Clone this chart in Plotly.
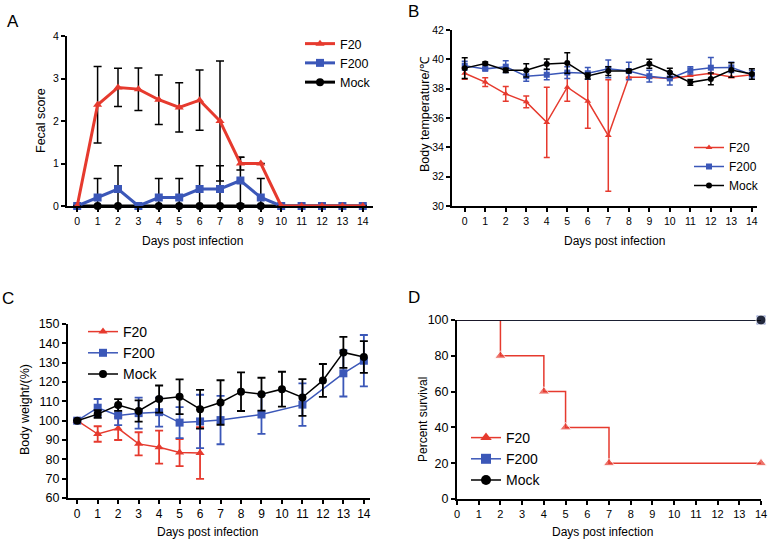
import plotly.graph_objects as go

# ---- data ----
days = list(range(15))

# A: fecal score
fecal_f20 = [0, 2.38, 2.79, 2.75, 2.5, 2.32, 2.49, 2.0, 1.0, 1.0, 0, 0, 0, 0, 0]
fecal_f20_err = [None, 0.9, 0.45, 0.5, 0.58, 0.58, 0.71, 1.41, 0.15, None, None, None, None, None, None]
fecal_f200 = [0, 0.2, 0.4, 0, 0.2, 0.2, 0.4, 0.4, 0.6, 0.2, 0, 0, 0, 0, 0]
fecal_f200_err = [None, 0.45, 0.55, None, 0.45, 0.45, 0.55, 0.55, 0.55, 0.45, None, None, None, None, None]
fecal_mock = [0] * 15

# B: body temperature
temp_f20 = [39.05, 38.45, 37.65, 37.1, 35.7, 38.1, 37.15, 34.8, 38.77, 38.77, 38.7, 38.9, 39.05, 38.8, 38.95]
temp_f20_err = [0.4, 0.3, 0.5, 0.4, 2.4, 0.95, 1.85, 3.8, None, None, None, None, None, None, None]
temp_f200 = [39.57, 39.35, 39.5, 38.85, 38.95, 39.1, 39.05, 39.35, 39.2, 38.85, 38.7, 39.25, 39.43, 39.45, 38.95]
temp_f200_err = [0.3, 0.1, 0.4, 0.35, 0.35, 0.4, 0.4, 0.6, 0.6, 0.4, 0.45, 0.25, 0.7, 0.35, 0.3]
temp_mock = [39.4, 39.72, 39.25, 39.25, 39.68, 39.75, 38.86, 39.2, 39.2, 39.7, 39.1, 38.43, 38.66, 39.27, 39.0]
temp_mock_err = [0.7, 0.1, 0.15, 0.45, 0.35, 0.7, 0.2, 0.3, 0.1, 0.3, 0.3, 0.2, 0.4, 0.5, 0.35]

# C: body weight
weight_f20_days = [0, 1, 2, 3, 4, 5, 6]
weight_f20 = [100, 93.1, 96.0, 88.0, 86.3, 83.5, 83.3]
weight_f20_err = [1, 4, 6, 6, 8.5, 7, 13.4]
weight_f200_days = [0, 1, 2, 3, 4, 5, 6, 7, 9, 11, 13, 14]
weight_f200 = [100, 106.7, 102.7, 103.9, 104.4, 99.0, 99.6, 100.3, 103.2, 108.3, 124.5, 131.0]
weight_f200_err = [None, 4.5, 5, 8, 7.5, 8, 13.8, 12.5, 10, 11, 12, 13.3]
weight_mock = [100, 103.4, 108.1, 105, 111.2, 112.4, 105.9, 109.4, 115, 113.7, 116.3, 112, 120.8, 135.3, 132.9]
weight_mock_err = [None, 2, 3, 5.5, 7, 9, 10, 11.5, 10, 8.5, 9, 9.5, 8.5, 8, 8.2]

# D: survival
surv_f20_days = [0, 2, 4, 5, 7, 14]
surv_f20 = [100, 80, 60, 40, 20, 20]
surv_f200_days = [0, 14]
surv_f200 = [100, 100]
surv_mock_days = [0, 14]
surv_mock = [100, 100]

RED = "#e63a2e"
BLUE = "#3b57b8"
BLACK = "#000000"
FONT = "Liberation Sans, Arial, sans-serif"

fig = go.Figure()


def err(arr, color, thick, width):
    return dict(type="data", array=arr, color=color, thickness=thick, width=width, visible=True)


# ---- panel A (mock underneath, F20 on top) ----
fig.add_trace(go.Scatter(x=days, y=fecal_mock, name="Mock", mode="lines+markers",
                         line=dict(color=BLACK, width=3), marker=dict(symbol="circle", size=8, color=BLACK),
                         xaxis="x", yaxis="y", legend="legend", legendrank=3, cliponaxis=False))
fig.add_trace(go.Scatter(x=days, y=fecal_f200, name="F200", mode="lines+markers",
                         line=dict(color=BLUE, width=3), marker=dict(symbol="square", size=8, color=BLUE),
                         error_y=err(fecal_f200_err, BLACK, 1.5, 4),
                         xaxis="x", yaxis="y", legend="legend", legendrank=2, cliponaxis=False))
fig.add_trace(go.Scatter(x=days, y=fecal_f20, name="F20", mode="lines+markers",
                         line=dict(color=RED, width=3), marker=dict(symbol="triangle-up", size=8, color=RED),
                         error_y=err(fecal_f20_err, BLACK, 1.5, 4),
                         xaxis="x", yaxis="y", legend="legend", legendrank=1, cliponaxis=False))

# ---- panel B ----
fig.add_trace(go.Scatter(x=days, y=temp_f20, name="F20", mode="lines+markers",
                         line=dict(color=RED, width=1.5), marker=dict(symbol="triangle-up", size=6, color=RED),
                         error_y=err(temp_f20_err, RED, 1.5, 3),
                         xaxis="x2", yaxis="y2", legend="legend2", cliponaxis=False))
fig.add_trace(go.Scatter(x=days, y=temp_f200, name="F200", mode="lines+markers",
                         line=dict(color=BLUE, width=1.5), marker=dict(symbol="square", size=6, color=BLUE),
                         error_y=err(temp_f200_err, BLUE, 1.5, 3),
                         xaxis="x2", yaxis="y2", legend="legend2", cliponaxis=False))
fig.add_trace(go.Scatter(x=days, y=temp_mock, name="Mock", mode="lines+markers",
                         line=dict(color=BLACK, width=1.5), marker=dict(symbol="circle", size=6, color=BLACK),
                         error_y=err(temp_mock_err, BLACK, 1.5, 3),
                         xaxis="x2", yaxis="y2", legend="legend2", cliponaxis=False))

# ---- panel C ----
fig.add_trace(go.Scatter(x=weight_f20_days, y=weight_f20, name="F20", mode="lines+markers",
                         line=dict(color=RED, width=1.5), marker=dict(symbol="triangle-up", size=8, color=RED),
                         error_y=err(weight_f20_err, RED, 1.8, 4),
                         xaxis="x3", yaxis="y3", legend="legend3"))
fig.add_trace(go.Scatter(x=weight_f200_days, y=weight_f200, name="F200", mode="lines+markers",
                         line=dict(color=BLUE, width=1.5), marker=dict(symbol="square", size=8, color=BLUE),
                         error_y=err(weight_f200_err, BLUE, 1.8, 4),
                         xaxis="x3", yaxis="y3", legend="legend3"))
fig.add_trace(go.Scatter(x=days, y=weight_mock, name="Mock", mode="lines+markers",
                         line=dict(color=BLACK, width=1.5), marker=dict(symbol="circle", size=8, color=BLACK),
                         error_y=err(weight_mock_err, BLACK, 1.8, 4),
                         xaxis="x3", yaxis="y3", legend="legend3"))

# ---- panel D ----
fig.add_trace(go.Scatter(x=surv_f20_days, y=surv_f20, mode="lines+markers", line_shape="hv",
                         line=dict(color=RED, width=1.5),
                         marker=dict(symbol="triangle-up", size=[0] + [10] * (len(surv_f20) - 1), color=RED),
                         xaxis="x4", yaxis="y4", showlegend=False, cliponaxis=False))
fig.add_trace(go.Scatter(x=surv_f200_days, y=surv_f200, mode="lines+markers",
                         line=dict(color=BLUE, width=1.5),
                         marker=dict(symbol="square", size=[0, 10], color=BLUE),
                         xaxis="x4", yaxis="y4", showlegend=False, cliponaxis=False))
fig.add_trace(go.Scatter(x=surv_mock_days, y=surv_mock, mode="lines+markers",
                         line=dict(color=BLACK, width=1.5),
                         marker=dict(symbol="circle", size=[0, 10], color=BLACK),
                         xaxis="x4", yaxis="y4", showlegend=False, cliponaxis=False))
for nm, col, sym in [("F20", RED, "triangle-up"), ("F200", BLUE, "square"), ("Mock", BLACK, "circle")]:
    fig.add_trace(go.Scatter(x=[None], y=[None], name=nm, mode="lines+markers",
                             line=dict(color=col, width=1.5), marker=dict(symbol=sym, size=10, color=col),
                             xaxis="x4", yaxis="y4", legend="legend4"))


def xax(dom, rng, anchor, size):
    return dict(domain=dom, range=rng, anchor=anchor, tickmode="linear", tick0=0, dtick=1,
                showline=True, linecolor=BLACK, linewidth=2, ticks="outside", ticklen=4, tickwidth=1.5,
                tickcolor=BLACK, showgrid=False, zeroline=False, automargin=False,
                tickfont=dict(family=FONT, size=size, color=BLACK))


def yax(dom, rng, anchor, dtick, size):
    return dict(domain=dom, range=rng, anchor=anchor, tickmode="linear", tick0=rng[0], dtick=dtick,
                showline=True, linecolor=BLACK, linewidth=2, ticks="outside", ticklen=4, tickwidth=1.5,
                tickcolor=BLACK, showgrid=False, zeroline=False, automargin=False,
                tickfont=dict(family=FONT, size=size, color=BLACK))


def leg(x, y, size):
    return dict(x=x, y=y, xanchor="left", yanchor="top", bgcolor="rgba(0,0,0,0)",
                font=dict(family=FONT, size=size, color=BLACK), itemwidth=30, tracegroupgap=0)


W, H = 768, 541
fig.update_layout(
    template="none",
    width=W, height=H, margin=dict(l=0, r=0, t=0, b=0, autoexpand=False),
    paper_bgcolor="white", plot_bgcolor="white",
    xaxis=xax([67 / W, 373 / W], [-0.5, 14.5], "y", 10.5),
    yaxis=yax([1 - 206 / H, 1 - 36 / H], [0, 4], "x", 1, 10.5),
    xaxis2=xax([452 / W, 757 / W], [-0.62, 14.25], "y2", 10.5),
    yaxis2=yax([1 - 206 / H, 1 - 30 / H], [30, 42], "x2", 2, 10.5),
    xaxis3=xax([68 / W, 370 / W], [-0.45, 14.3], "y3", 12),
    yaxis3=yax([1 - 498 / H, 1 - 324 / H], [60, 150], "x3", 10, 12.5),
    xaxis4=xax([457 / W, 761 / W], [0, 14], "y4", 11),
    yaxis4=yax([1 - 499 / H, 1 - 320 / H], [0, 100], "x4", 20, 12.5),
    legend=leg(300 / W, 1 - 29 / H, 12.5),
    legend2=leg(689 / W, 1 - 133 / H, 12),
    legend3=leg(83 / W, 1 - 316 / H, 14),
    legend4=leg(466 / W, 1 - 422 / H, 14),
    showlegend=True,
)

# axis titles and panel letters
notes = [
    ("A", 13, 21, 17, 0), ("B", 413, 12, 17, 0), ("C", 8, 298, 17, 0), ("D", 414, 297, 17, 0),
    ("Fecal score", 41, 121, 12.5, -90), ("Days post infection", 192, 241, 12, 0),
    ("Body temperature/℃", 425, 114, 12.5, -90), ("Days post infection", 614, 241, 12, 0),
    ("Body weight/(%)", 25, 410, 12.5, -90), ("Days post infection", 207, 532, 12, 0),
    ("Percent survival", 423, 420, 12, -90), ("Days post infection", 602, 532, 12, 0),
]
for txt, x, y, sz, ang in notes:
    fig.add_annotation(text=txt, x=x / W, y=1 - y / H, xref="paper", yref="paper",
                       xanchor="center", yanchor="middle", showarrow=False, textangle=ang,
                       font=dict(family=FONT, size=sz, color=BLACK))

# page body has a default 8px margin; remove it so the figure sits at the top-left corner
fig.write_html("out.html", config={"displayModeBar": False},
               post_script="document.body.style.margin='0px';")
